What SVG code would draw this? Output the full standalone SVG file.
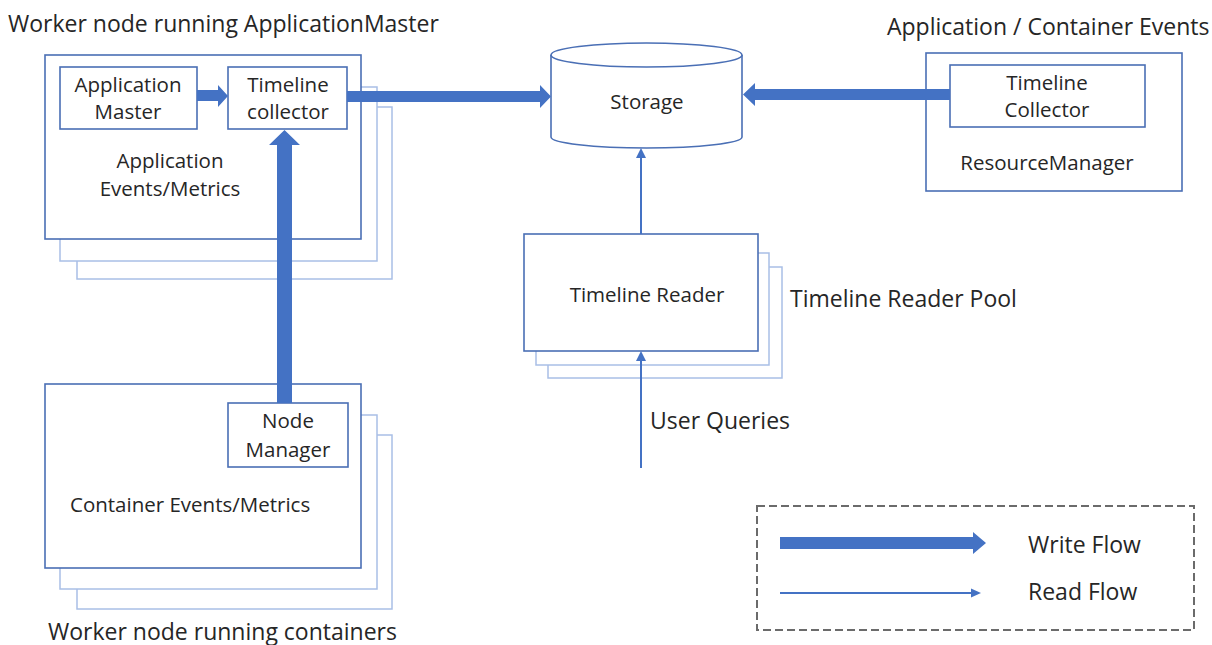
<svg xmlns="http://www.w3.org/2000/svg" width="1212" height="645" viewBox="0 0 1212 645">
<style>
text{font-family:"Open Sans","Noto Sans","Liberation Sans",sans-serif;fill:#262626}
.t{font-size:23px}
.n{font-size:20.5px}
.c{text-anchor:middle}
.box{fill:#fff;stroke:#4a6fb5;stroke-width:1.6}
.sh{fill:#fff;stroke:#a9bfe6;stroke-width:1.5}
.w{fill:#4472c4}
.r{stroke:#4472c4;stroke-width:2;fill:none}
.rh{fill:#4472c4}
</style>
<rect width="1212" height="645" fill="#fff"/>
<text class="t" x="8" y="32">Worker node running ApplicationMaster</text>
<text class="t" x="887" y="35">Application / Container Events</text>
<text class="t" x="48" y="640">Worker node running containers</text>
<text class="t" x="790" y="307">Timeline Reader Pool</text>
<text class="t" x="650" y="429">User Queries</text>

<g id="am-worker">
<rect class="sh" x="77" y="107" width="315" height="172"/>
<rect class="sh" x="60" y="87" width="317" height="174"/>
<rect class="box" x="45" y="55" width="316" height="184"/>
<text class="n c" x="170" y="168">Application</text>
<text class="n c" x="170" y="196">Events/Metrics</text>
</g>
<g id="application-master">
<rect class="box" x="60" y="67" width="137" height="62"/>
<text class="n c" x="128" y="92">Application</text>
<text class="n c" x="128" y="119">Master</text>
</g>
<g id="timeline-collector">
<rect class="box" x="228" y="67" width="119" height="62"/>
<text class="n c" x="288" y="92">Timeline</text>
<text class="n c" x="288" y="119">collector</text>
</g>

<g id="container-worker">
<rect class="sh" x="77" y="435" width="315" height="174"/>
<rect class="sh" x="60" y="415" width="317" height="174"/>
<rect class="box" x="45" y="384" width="316" height="184"/>
<text class="n" x="70" y="512">Container Events/Metrics</text>
</g>
<g id="node-manager">
<rect class="box" x="228" y="403" width="120" height="64"/>
<text class="n c" x="288" y="428">Node</text>
<text class="n c" x="288" y="457">Manager</text>
</g>

<g id="storage">
<path class="box" d="M551,55 V137 A95.5,11 0 0 0 742,137 V55"/>
<ellipse class="box" cx="646.5" cy="55" rx="95.5" ry="12"/>
<text class="n c" x="647" y="109">Storage</text>
</g>

<g id="resource-manager">
<rect class="box" x="926" y="53" width="256" height="138"/>
<text class="n c" x="1047" y="170">ResourceManager</text>
</g>
<g id="rm-timeline-collector">
<rect class="box" x="950" y="65" width="195" height="62"/>
<text class="n c" x="1047" y="90">Timeline</text>
<text class="n c" x="1047" y="117">Collector</text>
</g>

<g id="timeline-reader">
<rect class="sh" x="548" y="267" width="234" height="111"/>
<rect class="sh" x="536" y="253" width="233" height="112"/>
<rect class="box" x="524" y="234" width="234" height="117"/>
<text class="n c" x="647" y="302">Timeline Reader</text>
</g>

<g id="connectors">
<polygon class="w" points="197,90 218,90 218,85 228,96 218,107 218,101 197,101"/>
<polygon class="w" points="277,403 277,145 269,145 284.5,130 300,145 292,145 292,403"/>
<polygon class="w" points="347,91 540,91 540,85 551,96.5 540,108 540,102 347,102"/>
<polygon class="w" points="950,89 755,89 755,83 743,94.5 755,106 755,100 950,100"/>
<line class="r" x1="641" y1="234" x2="641" y2="156"/>
<polygon class="rh" points="641,148 636,158 646,158"/>
<line class="r" x1="641" y1="468" x2="641" y2="359"/>
<polygon class="rh" points="641,351 636,361 646,361"/>
</g>

<g id="legend">
<rect x="757" y="506" width="437" height="124" fill="none" stroke="#6b6b6b" stroke-width="2" stroke-dasharray="8,4"/>
<polygon class="w" points="780,537 973,537 973,532 986,543 973,554 973,549 780,549"/>
<text class="t" x="1028" y="553">Write Flow</text>
<line class="r" x1="780" y1="593" x2="972" y2="593"/>
<polygon class="rh" points="981,593 971,588.5 971,597.5"/>
<text class="t" x="1028" y="600">Read Flow</text>
</g>
</svg>
